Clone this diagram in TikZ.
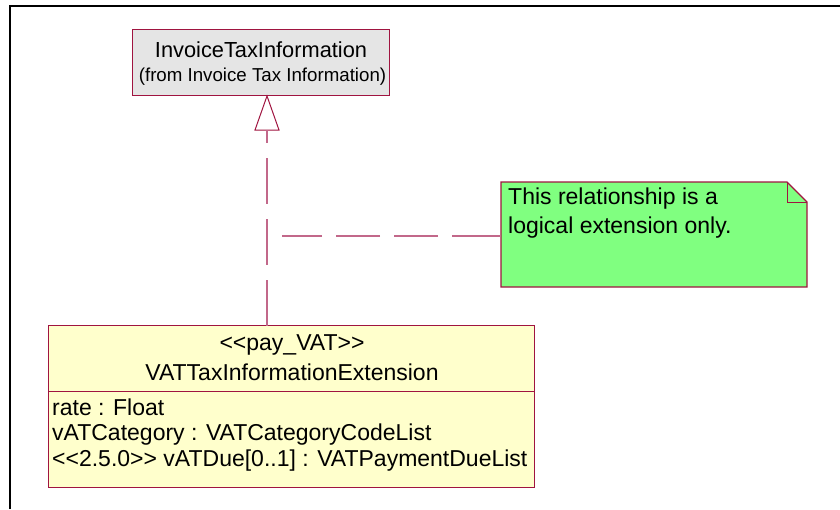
\documentclass[tikz,border=0pt]{standalone}
\usepackage{fontspec}
\setmainfont[Ligatures=TeXOff]{Liberation Sans}
\tikzset{
  x=1pt,y=-1pt,
  umlbox/.style={draw=umlred,line width=1.1pt,anchor=north west,inner sep=0pt,outer sep=0pt},
  link/.style={draw=umllink,line width=1.4pt},
  big/.style={font=\fontsize{23}{25}\selectfont,inner sep=0pt,text=black},
  supertext/.style={font=\fontsize{21.8}{25}\selectfont,inner sep=0pt,text=black},
  notetext/.style={font=\fontsize{23}{25}\selectfont,inner sep=0pt,text=black},
  small/.style={font=\fontsize{18.7}{20}\selectfont,inner sep=0pt,text=black},
}
\definecolor{umlred}{HTML}{A01440}
\definecolor{umllink}{HTML}{C2688A}
\definecolor{boxgray}{HTML}{E5E5E5}
\definecolor{boxyellow}{HTML}{FFFFCC}
\definecolor{notegreen}{HTML}{80FF80}
\begin{document}
\begin{tikzpicture}
\useasboundingbox (0,0) rectangle (840,509);
% frame
\draw[black,line width=2pt] (10,509) -- (10,5.5) -- (840,5.5);
% super class
\node[umlbox,fill=boxgray,minimum width=257pt,minimum height=66pt] (super) at (132.5,29.5) {};
\node[supertext] (superName) at (261,50) {InvoiceTaxInformation};
\node[small] (superFrom) at (262.5,76.5) {(from Invoice Tax Information)};
% class
\node[umlbox,fill=boxyellow,minimum width=486pt,minimum height=162pt] (cls) at (48.5,325.5) {};
\draw[umlred,line width=1pt] (cls.west |- 0,391) coordinate (divL) -- (cls.east |- 0,391) coordinate (divR);
\node[big] (stereo) at (292,345) {<<pay\_VAT>>};
\node[big] (clsName) at (292,372) {VATTaxInformationExtension};
\node[big,anchor=base west] (attrA) at (52,415) {rate : Float};
\node[big,anchor=base west] (attrB) at (52,440.5) {vATCategory : VATCategoryCodeList};
\node[big,anchor=base west] (attrC) at (52,466) {<<2.5.0>> vATDue[0..1] : VATPaymentDueList};
% note
\coordinate (noteNW) at (501,182);
\coordinate (noteFoldT) at (787,182);
\coordinate (noteFoldB) at (807,202);
\coordinate (noteSE) at (807,287);
\coordinate (noteSW) at (501,287);
\coordinate (noteFoldC) at (787,202);
\coordinate (noteW) at (501,236);
\coordinate (linkEnd) at (282,236);
\draw[umlred,line width=1.1pt,fill=notegreen] (noteNW) -- (noteFoldT) -- (noteFoldB) -- (noteSE) -- (noteSW) -- cycle;
\draw[umlred,line width=1pt] (noteFoldT) -- (noteFoldC) -- (noteFoldB);
\node[notetext,anchor=base west] (noteA) at (508,204) {This relationship is a};
\node[notetext,anchor=base west] (noteB) at (508,233.5) {logical extension only.};
% realization
\coordinate (triTip) at (267,96);
\coordinate (triL) at (255,130);
\coordinate (triR) at (279,130);
\coordinate (triBase) at (267,130);
\draw[umlred,line width=1pt,fill=white,line join=miter] (triTip) -- (triR) -- (triL) -- cycle;
\draw[link,dash pattern=on 46pt off 15pt] (cls.north -| triBase) -- (triBase);
\draw[link,dash pattern=on 49pt off 14pt on 44pt off 14pt on 44pt off 14pt on 43pt off 14pt] (noteW) -- (linkEnd);
\end{tikzpicture}
\end{document}
